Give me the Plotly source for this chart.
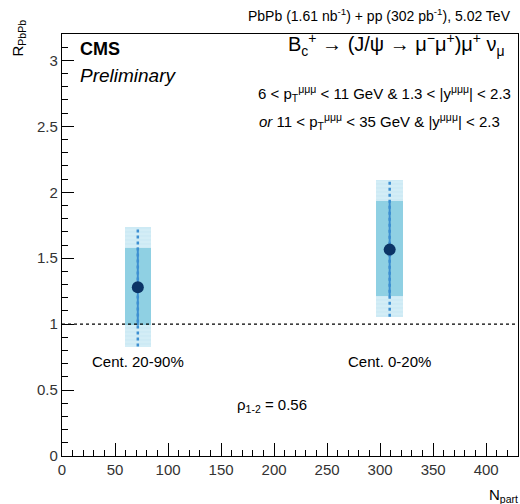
import plotly.graph_objects as go

# data
npart = [71.5, 309.0]
raa = [1.28, 1.565]
sys_lo = [0.99, 1.21]
sys_hi = [1.58, 1.93]
tot_lo = [0.83, 1.055]
tot_hi = [1.735, 2.095]
cent_labels = ["Cent. 20-90%", "Cent. 0-20%"]
box_width = 25
x_range = [0, 430]
y_range = [0, 3.2]

FONT = "Liberation Sans, Arial, sans-serif"
fig = go.Figure()

# total (light) boxes
fig.add_trace(go.Bar(
    x=npart, y=[h - l for h, l in zip(tot_hi, tot_lo)], base=tot_lo,
    width=box_width, marker=dict(color="#d3edf6", line=dict(width=0),
                                 pattern=dict(shape="-", fgcolor="#c2e4f0", size=4, solidity=0.3)),
    showlegend=False, hoverinfo="skip"))
# dark boxes
fig.add_trace(go.Bar(
    x=npart, y=[h - l for h, l in zip(sys_hi, sys_lo)], base=sys_lo,
    width=box_width, marker=dict(color="#8fd0e3", line=dict(width=0)),
    showlegend=False, hoverinfo="skip"))

# dotted lines to total extents
for i in range(len(npart)):
    fig.add_trace(go.Scatter(
        x=[npart[i], npart[i]], y=[tot_lo[i], tot_hi[i]], mode="lines",
        line=dict(color="#3d8fd1", width=2.5, dash="dot"),
        showlegend=False, hoverinfo="skip"))
    fig.add_trace(go.Scatter(
        x=[npart[i], npart[i]], y=[sys_lo[i], sys_hi[i]], mode="lines",
        line=dict(color="#3d8fd1", width=2),
        showlegend=False, hoverinfo="skip"))

# points
fig.add_trace(go.Scatter(
    x=npart, y=raa, mode="markers",
    marker=dict(color="#0b3466", size=12),
    showlegend=False))

# reference line at 1
fig.add_trace(go.Scatter(
    x=x_range, y=[1, 1], mode="lines",
    line=dict(color="black", width=1.2, dash="dot"),
    showlegend=False, hoverinfo="skip"))

ann = []
for x, lab in zip(npart, cent_labels):
    ann.append(dict(x=x, y=0.72, xref="x", yref="y", text=lab, showarrow=False,
                    font=dict(size=15, family=FONT, color="black"), xanchor="center", yanchor="middle"))
ann += [
    dict(x=198, y=0.38, xref="x", yref="y", text="ρ<sub>1-2</sub> = 0.56", showarrow=False,
         font=dict(size=15, family=FONT, color="black"), xanchor="center", yanchor="middle"),
    dict(x=1.0, y=1.0, xref="paper", yref="paper", xshift=-5, yshift=19,
         text="PbPb (1.61 nb<sup>-1</sup>) + pp (302 pb<sup>-1</sup>), 5.02 TeV",
         showarrow=False, xanchor="right", yanchor="middle",
         font=dict(size=14, family=FONT, color="black")),
    dict(x=0.035, y=0.965, xref="paper", yref="paper", text="<b>CMS</b>", showarrow=False,
         xanchor="left", yanchor="middle", font=dict(size=18, family=FONT, color="black")),
    dict(x=0.035, y=0.902, xref="paper", yref="paper", text="<i>Preliminary</i>", showarrow=False,
         xanchor="left", yanchor="middle", font=dict(size=19, family=FONT, color="black")),
    dict(x=0.975, y=0.976, xref="paper", yref="paper",
         text="B<sub>c</sub><sup>+</sup> → (J/ψ → μ<sup>−</sup>μ<sup>+</sup>)μ<sup>+</sup> ν<sub>μ</sub>",
         showarrow=False, xanchor="right", yanchor="middle",
         font=dict(size=20, family=FONT, color="black")),
    dict(x=0.99, y=0.86, xref="paper", yref="paper",
         text="6 < p<sub>T</sub><sup>μμμ</sup> < 11 GeV & 1.3 < |y<sup>μμμ</sup>| < 2.3",
         showarrow=False, xanchor="right", yanchor="middle",
         font=dict(size=15, family=FONT, color="black")),
    dict(x=0.965, y=0.792, xref="paper", yref="paper",
         text="<i>or</i> 11 < p<sub>T</sub><sup>μμμ</sup> < 35 GeV & |y<sup>μμμ</sup>| < 2.3",
         showarrow=False, xanchor="right", yanchor="middle",
         font=dict(size=15, family=FONT, color="black")),
    dict(x=1.0, y=0, xref="paper", yref="paper", yshift=-28, xshift=2,
         text="N<sub>part</sub>", showarrow=False, xanchor="right", yanchor="top",
         font=dict(size=15, family=FONT, color="black")),
    dict(x=0, y=1.0, xref="paper", yref="paper", xshift=-44, yshift=16,
         text="R<sub>PbPb</sub>", showarrow=False, xanchor="center", yanchor="top",
         textangle=-90, font=dict(size=15, family=FONT, color="black")),
]

fig.update_layout(
    width=520, height=504, barmode="overlay", bargap=0,
    margin=dict(l=62, r=2, t=34, b=48),
    plot_bgcolor="white", paper_bgcolor="white",
    font=dict(family=FONT, size=14, color="#222"),
    annotations=ann,
    xaxis=dict(range=x_range, showgrid=False, zeroline=False, showline=True, linecolor="black",
               linewidth=1.2, mirror=True, ticks="inside", ticklen=13, tickcolor="black",
               dtick=50, tick0=0, tickfont=dict(size=15, family=FONT, color="#333"),
               minor=dict(ticks="inside", ticklen=6, dtick=10, tickcolor="black", showgrid=False)),
    yaxis=dict(range=y_range, showgrid=False, zeroline=False, showline=True, linecolor="black",
               linewidth=1.2, mirror=True, ticks="inside", ticklen=12, tickcolor="black",
               dtick=0.5, tick0=0, tickfont=dict(size=15, family=FONT, color="#333"),
               minor=dict(ticks="inside", ticklen=6, dtick=0.1, tickcolor="black", showgrid=False)),
)

fig.write_html("out.html")
